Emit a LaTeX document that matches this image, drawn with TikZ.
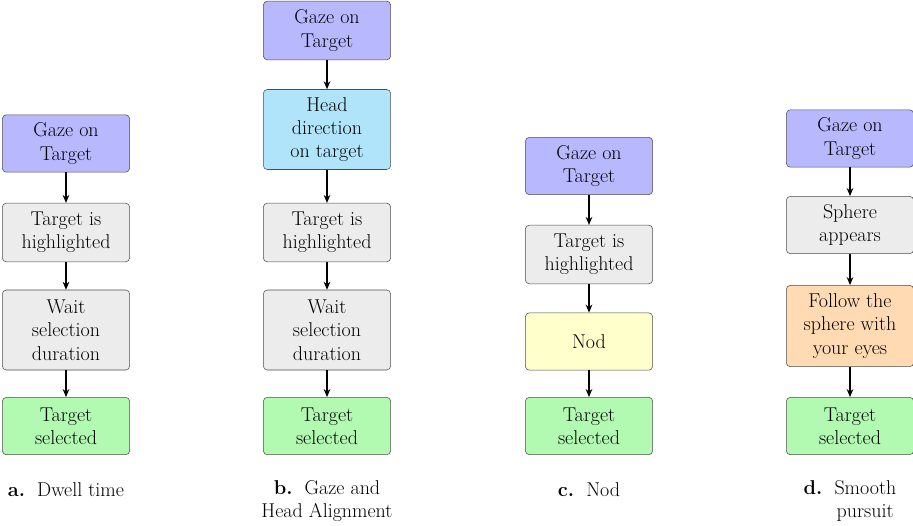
\documentclass[tikz,border=0pt]{standalone}
\usetikzlibrary{arrows.meta}
\definecolor{cpur}{RGB}{184,184,255}
\definecolor{cblu}{RGB}{176,228,250}
\definecolor{cgry}{RGB}{236,236,236}
\definecolor{cgrn}{RGB}{178,250,178}
\definecolor{cyel}{RGB}{255,255,204}
\definecolor{corg}{RGB}{255,218,178}
\begin{document}
\begin{tikzpicture}[x=0.75pt,y=-0.75pt,
 box/.style={draw=black!70,rounded corners=3pt,minimum width=95.5pt,align=center,font=\fontsize{15}{17.5}\selectfont,inner sep=1pt},
 arr/.style={-{Stealth[length=6pt,width=5pt]},thick},
 lab/.style={align=center,font=\fontsize{15}{17.5}\selectfont}]
\useasboundingbox (0,0) rectangle (913,525);
% a
\node[box,fill=cpur,minimum height=43pt] (a1) at (66,143.5) {Gaze on\\Target};
\node[box,fill=cgry,minimum height=44pt] (a2) at (66,232.5) {Target is\\highlighted};
\node[box,fill=cgry,minimum height=60pt] (a3) at (66,330) {Wait\\selection\\duration};
\node[box,fill=cgrn,minimum height=43pt] (a4) at (66,426) {Target\\selected};
\draw[arr] (a1)--(a2); \draw[arr] (a2)--(a3); \draw[arr] (a3)--(a4);
\node[lab] (la) at (66,490) {\textbf{a.}\ \ Dwell time};
% b
\node[box,fill=cpur,minimum height=44pt] (b1) at (327,30.5) {Gaze on\\Target};
\node[box,fill=cblu,minimum height=60pt] (b2) at (327,129.5) {Head\\direction\\on target};
\node[box,fill=cgry,minimum height=44pt] (b3) at (327,232.5) {Target is\\highlighted};
\node[box,fill=cgry,minimum height=60pt] (b4) at (327,330) {Wait\\selection\\duration};
\node[box,fill=cgrn,minimum height=43pt] (b5) at (327,426) {Target\\selected};
\draw[arr] (b1)--(b2); \draw[arr] (b2)--(b3); \draw[arr] (b3)--(b4); \draw[arr] (b4)--(b5);
\node[lab] (lb) at (327,501) {\textbf{b.}\ \ Gaze and\\Head Alignment};
% c
\node[box,fill=cpur,minimum height=43pt] (c1) at (589,166) {Gaze on\\Target};
\node[box,fill=cgry,minimum height=44pt] (c2) at (589,254.5) {Target is\\highlighted};
\node[box,fill=cyel,minimum height=43pt] (c3) at (589,341.5) {Nod};
\node[box,fill=cgrn,minimum height=43pt] (c4) at (589,426) {Target\\selected};
\draw[arr] (c1)--(c2); \draw[arr] (c2)--(c3); \draw[arr] (c3)--(c4);
\node[lab] (lc) at (589,490) {\textbf{c.}\ \ Nod};
% d
\node[box,fill=cpur,minimum height=43pt] (d1) at (850,138.5) {Gaze on\\Target};
\node[box,fill=cgry,minimum height=43pt] (d2) at (850,225) {Sphere\\appears};
\node[box,fill=corg,minimum height=61pt] (d3) at (850,326) {Follow the\\sphere with\\your eyes};
\node[box,fill=cgrn,minimum height=43pt] (d4) at (850,426) {Target\\selected};
\draw[arr] (d1)--(d2); \draw[arr] (d2)--(d3); \draw[arr] (d3)--(d4);
\node[lab] (ld) at (850,501) {\textbf{d.}\ \ Smooth\\\ \ \ \ \ pursuit};
\end{tikzpicture}
\end{document}
